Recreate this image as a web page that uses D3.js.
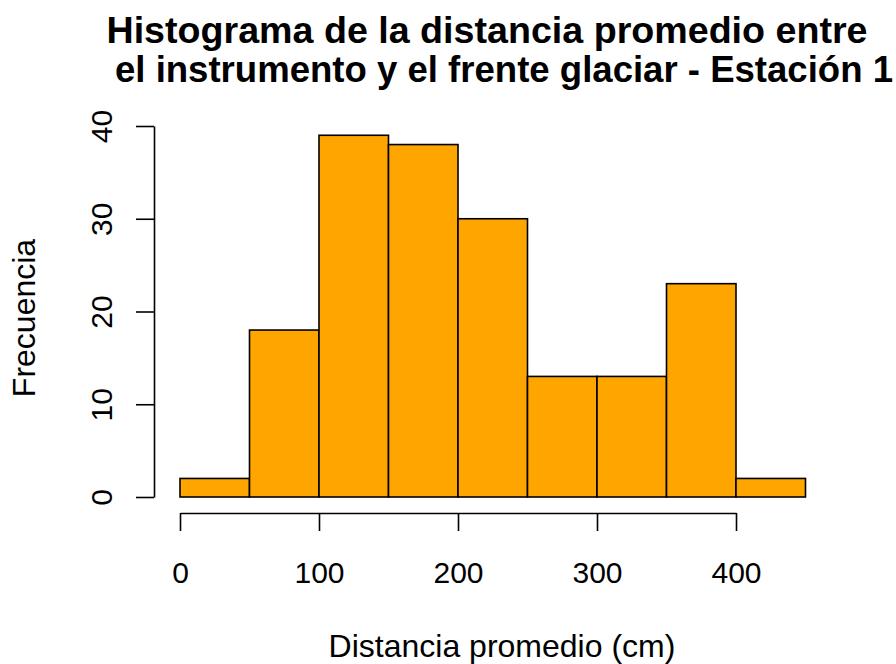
<!DOCTYPE html>
<html>
<head>
<meta charset="utf-8">
<script src="https://cdn.jsdelivr.net/npm/d3@7"></script>
<style>
  body { margin: 0; background: #fff; }
  text { font-family: "Liberation Sans", Arial, sans-serif; fill: #000; }
</style>
</head>
<body>
<div id="chart"></div>
<script>
// histogram bins (cm) and counts
var binEdges = [0, 50, 100, 150, 200, 250, 300, 350, 400, 450];
var counts = [2, 18, 39, 38, 30, 13, 13, 23, 2];
var xTicks = [0, 100, 200, 300, 400];
var yTicks = [0, 10, 20, 30, 40];

var width = 896, height = 664;

var svg = d3.select("#chart")
    .append("svg")
    .attr("width", width)
    .attr("height", height);

var x = d3.scaleLinear().domain([0, 400]).range([180, 736]);
var y = d3.scaleLinear().domain([0, 40]).range([497, 126]);

var bins = counts.map(function (c, i) {
    return { x0: binEdges[i], x1: binEdges[i + 1], n: c };
});

// bars
svg.selectAll(".bar")
    .data(bins)
    .join("rect")
    .attr("class", "bar")
    .attr("x", d => x(d.x0))
    .attr("y", d => y(d.n))
    .attr("width", d => x(d.x1) - x(d.x0))
    .attr("height", d => y(0) - y(d.n))
    .attr("fill", "#FFA500")
    .attr("stroke", "#000")
    .attr("stroke-width", 1.6);

// x axis (R style, offset below the plot)
var xAxis = d3.axisBottom(x)
    .tickValues(xTicks)
    .tickSize(18)
    .tickPadding(31)
    .tickSizeOuter(0);

var gx = svg.append("g")
    .attr("transform", "translate(0,513)")
    .call(xAxis);
gx.select(".domain").attr("stroke-width", 1.6);
gx.selectAll(".tick line").attr("stroke-width", 1.6);
gx.selectAll(".tick text")
    .attr("font-size", 30)
    .attr("font-family", "Liberation Sans, Arial, sans-serif");

// y axis
var yAxis = d3.axisLeft(y)
    .tickValues(yTicks)
    .tickSize(18)
    .tickSizeOuter(0);

var gy = svg.append("g")
    .attr("transform", "translate(154,0)")
    .call(yAxis);
gy.select(".domain").attr("stroke-width", 1.6);
gy.selectAll(".tick line").attr("stroke-width", 1.6);
gy.selectAll(".tick text")
    .attr("font-size", 30)
    .attr("font-family", "Liberation Sans, Arial, sans-serif")
    .attr("text-anchor", "middle")
    .attr("dy", 0)
    .attr("x", 0)
    .attr("transform", "translate(-42,0) rotate(-90)");

// titles
var title = svg.append("text")
    .attr("font-size", 36)
    .attr("font-weight", "bold")
    .attr("text-anchor", "middle");
title.append("tspan").attr("x", 487).attr("y", 43)
    .attr("textLength", 761).attr("lengthAdjust", "spacingAndGlyphs")
    .text("Histograma de la distancia promedio entre");
title.append("tspan").attr("x", 504).attr("y", 82)
    .attr("textLength", 778).attr("lengthAdjust", "spacingAndGlyphs")
    .text("el instrumento y el frente glaciar - Estación 1");

svg.append("text")
    .attr("x", 502)
    .attr("y", 657)
    .attr("font-size", 32)
    .attr("text-anchor", "middle")
    .text("Distancia promedio (cm)");

svg.append("text")
    .attr("transform", "translate(35,318) rotate(-90)")
    .attr("font-size", 32)
    .attr("text-anchor", "middle")
    .text("Frecuencia");
</script>
</body>
</html>
